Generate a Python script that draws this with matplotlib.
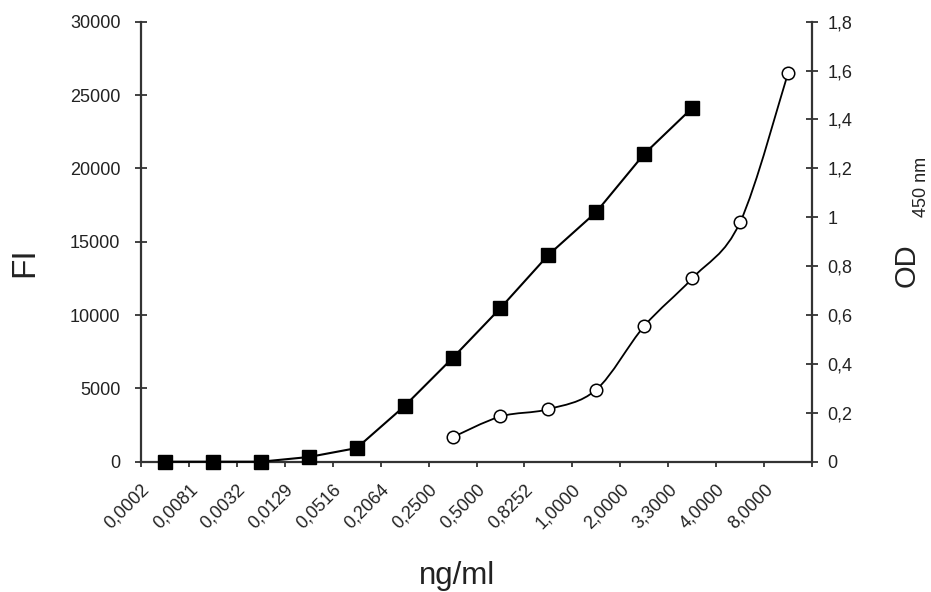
import numpy as np
import matplotlib
matplotlib.use('Agg')
import matplotlib.pyplot as plt
from matplotlib.path import Path
from matplotlib.patches import PathPatch
from matplotlib.transforms import ScaledTranslation

plt.rcParams['font.family'] = ['Liberation Sans', 'DejaVu Sans']

# categories on the x axis (ng/ml)
concentrations = ['0,0002', '0,0081', '0,0032', '0,0129', '0,0516', '0,2064', '0,2500',
                  '0,5000', '0,8252', '1,0000', '2,0000', '3,3000', '4,0000', '8,0000']

# FI series (filled squares, left axis)
fi_pos = [0, 1, 2, 3, 4, 5, 6, 7, 8, 9, 10, 11]
fi_values = [0, 0, 0, 320, 930, 3800, 7070, 10480, 14100, 17030, 20990, 24120]

# OD 450 nm series (open circles, right axis)
od_pos = [6, 7, 8, 9, 10, 11, 12, 13]
od_values = [0.10, 0.185, 0.215, 0.295, 0.555, 0.75, 0.98, 1.59]

fi_ticks = [0, 5000, 10000, 15000, 20000, 25000, 30000]
od_ticks = [0, 0.2, 0.4, 0.6, 0.8, 1.0, 1.2, 1.4, 1.6, 1.8]
od_tick_labels = ['0', '0,2', '0,4', '0,6', '0,8', '1', '1,2', '1,4', '1,6', '1,8']

axis_color = '#333333'
text_color = '#222222'


def smooth_path(xs, ys):
    # catmull-rom style bezier through the points (like the spreadsheet "smoothed line")
    pts = np.column_stack([xs, ys]).astype(float)
    n = len(pts)
    verts = [pts[0]]
    codes = [Path.MOVETO]
    for i in range(n - 1):
        p0 = pts[max(i - 1, 0)]
        p1 = pts[i]
        p2 = pts[i + 1]
        p3 = pts[min(i + 2, n - 1)]
        verts += [p1 + (p2 - p0) / 6, p2 - (p3 - p1) / 6, p2]
        codes += [Path.CURVE4] * 3
    return Path(verts, codes)


fig = plt.figure(figsize=(9.31, 5.92), dpi=100)
ax = fig.add_axes([0.1515, 0.2201, 0.7207, 0.7432])
ax2 = ax.twinx()

ax.set_xlim(-0.5, len(concentrations) - 0.5)
ax.set_ylim(0, 30000)
ax2.set_ylim(0, 1.8)

# squares
ax.plot(fi_pos, fi_values, color='black', lw=1.5, marker='s', markersize=10,
        markerfacecolor='black', markeredgecolor='black', clip_on=False, zorder=3)

# circles with smoothed line
ax2.add_patch(PathPatch(smooth_path(od_pos, od_values), facecolor='none',
                        edgecolor='black', lw=1.3, zorder=2))
ax2.plot(od_pos, od_values, linestyle='none', marker='o', markersize=9,
         markerfacecolor='white', markeredgecolor='black', markeredgewidth=1.1,
         clip_on=False, zorder=3)

for a in (ax, ax2):
    a.spines['top'].set_visible(False)
    for s in a.spines.values():
        s.set_color(axis_color)
        s.set_linewidth(1.6)
ax.spines['right'].set_visible(False)
ax2.spines['left'].set_visible(False)
ax2.spines['bottom'].set_visible(False)

# left axis
ax.set_yticks(fi_ticks)
ax.set_yticklabels([str(t) for t in fi_ticks])
ax.tick_params(axis='y', direction='inout', length=8.6, width=1.3, pad=10.5,
               labelsize=13, colors=axis_color, labelcolor=text_color)

# right axis
ax2.set_yticks(od_ticks)
ax2.set_yticklabels(od_tick_labels)
ax2.tick_params(axis='y', direction='inout', length=8.6, width=1.3, pad=7,
                labelsize=13, colors=axis_color, labelcolor=text_color)

# x axis: marks between categories, labels at category centres
ax.set_xticks(np.arange(-0.5, len(concentrations), 1.0))
ax.set_xticklabels([])
ax.tick_params(axis='x', which='major', direction='out', length=3.6, width=1.3,
               colors=axis_color)
ax.set_xticks(np.arange(len(concentrations)), minor=True)
ax.set_xticklabels(concentrations, minor=True, rotation=45, ha='right',
                   va='center', rotation_mode='anchor')
ax.tick_params(axis='x', which='minor', length=0, pad=18, labelsize=13,
               labelcolor=text_color)
shift = ScaledTranslation(-13 / 72, 0, fig.dpi_scale_trans)
for lab in ax.get_xticklabels(minor=True):
    lab.set_transform(lab.get_transform() + shift)

fig.text(25 / 931, 1 - 262 / 592, 'FI', rotation=90, fontsize=24,
         ha='center', va='center', color=text_color)
fig.text(457 / 931, 1 - 576 / 592, 'ng/ml', fontsize=22.5,
         ha='center', va='center', color=text_color)
fig.text(907 / 931, 1 - 265 / 592, 'OD', rotation=90, fontsize=21,
         ha='center', va='center', color=text_color)
fig.text(921 / 931, 1 - 187 / 592, '450 nm', rotation=90, fontsize=13,
         ha='center', va='center', color=text_color)

fig.savefig('out.png', dpi=100)
